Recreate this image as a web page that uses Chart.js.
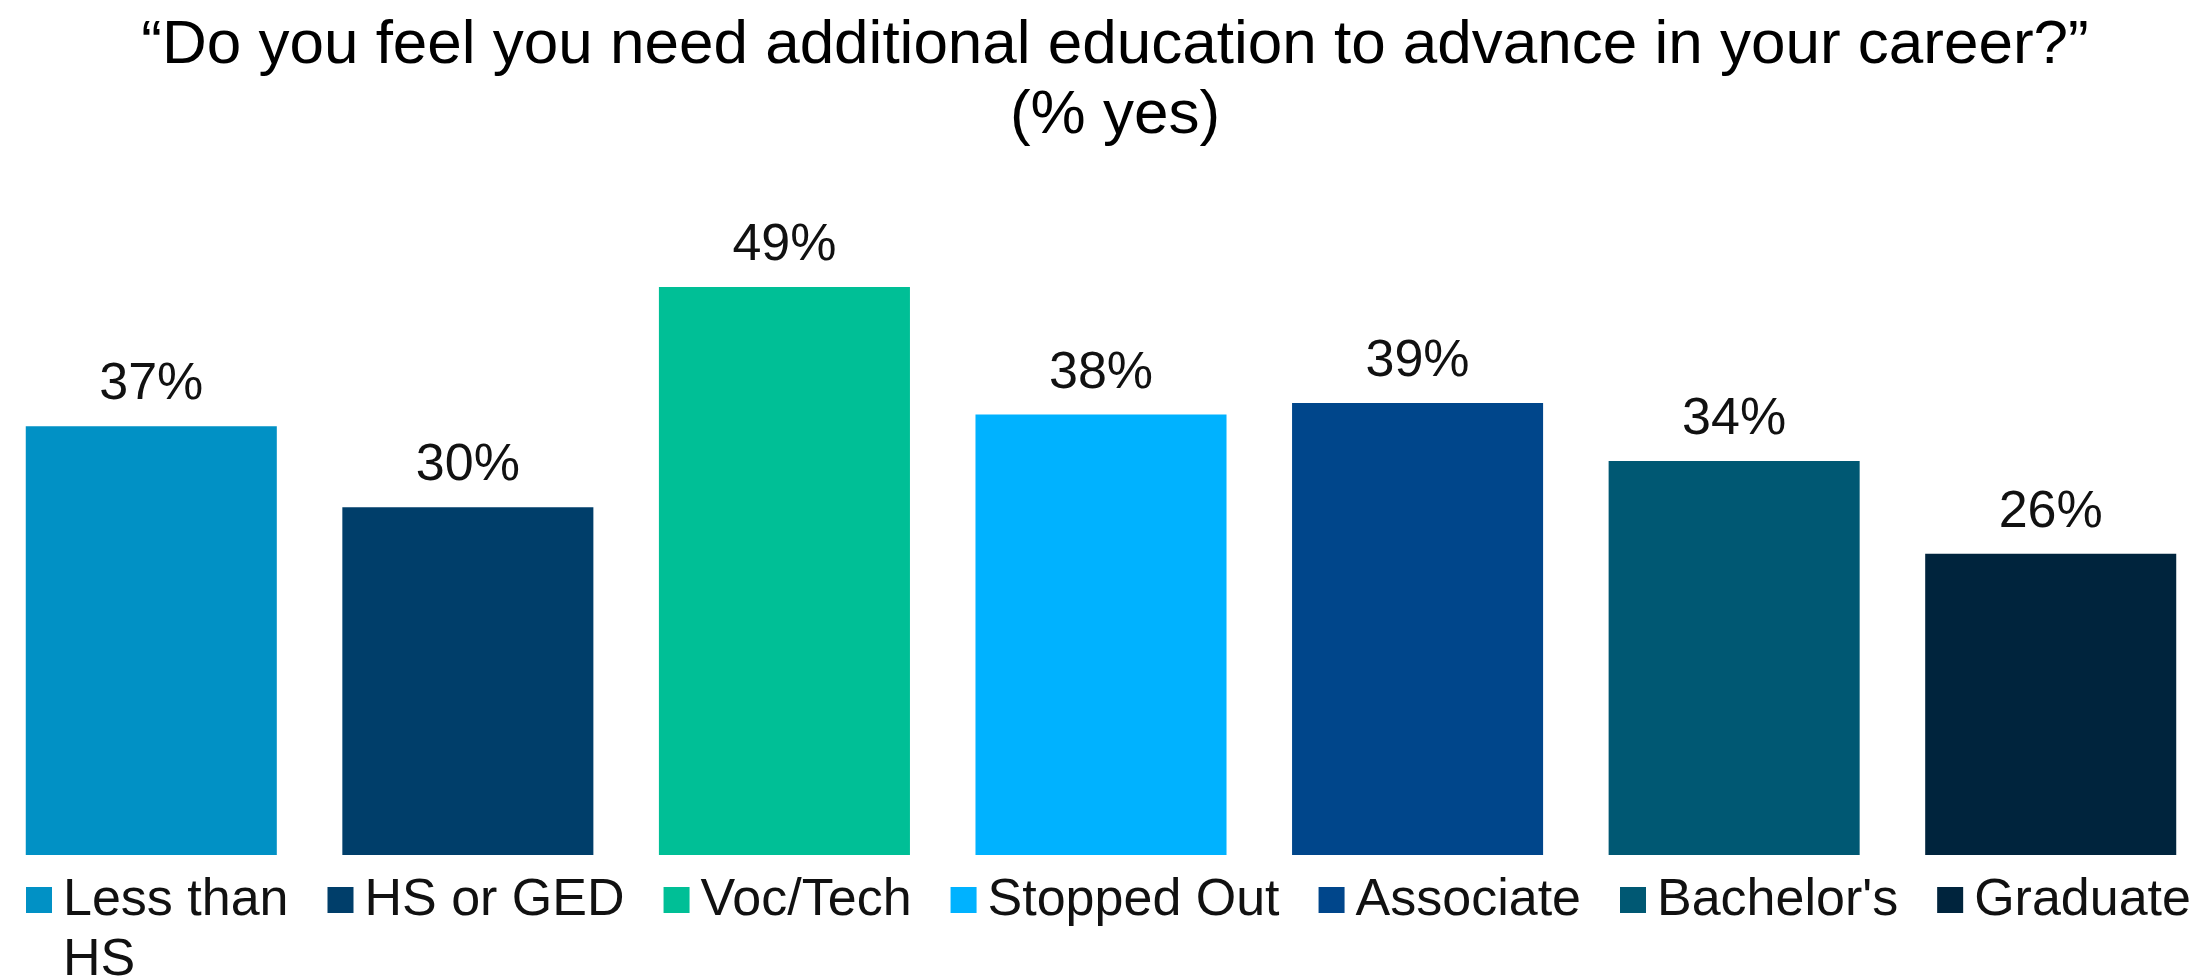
<!DOCTYPE html>
<html>
<head>
<meta charset="utf-8">
<script src="https://cdn.jsdelivr.net/npm/chart.js@4"></script>
<style>
  html, body { margin: 0; padding: 0; background: #fff; overflow: hidden; }
  #wrap { width: 2205px; height: 976px; overflow: hidden; position: relative; }
  #eduChart { position: absolute; left: -7px; top: 0; }
</style>
</head>
<body>
<div id="wrap"><canvas id="eduChart" width="2216" height="976"></canvas></div>
<script>
// data
const categories = [['Less than', 'HS'], 'HS or GED', 'Voc/Tech', 'Stopped Out', 'Associate', "Bachelor's", 'Graduate'];
const yesShare = [37, 30, 49, 38, 39, 34, 26];
const titleLines = ['\u201CDo you feel you need additional education to advance in your career?\u201D', '(% yes)'];

const barColors = ['#0191C5', '#003E6A', '#00BF96', '#00B2FF', '#00468B', '#005873', '#00243D'];
const FONT = '"Liberation Sans", Arial, sans-serif';
const SHIFT = 7; // canvas sits 7px left of the page edge

// title, centred a bit right of the plot like the original slide
const slideTitle = {
  id: 'slideTitle',
  afterDraw(chart) {
    const ctx = chart.ctx;
    ctx.save();
    ctx.font = '62px ' + FONT;
    ctx.fillStyle = '#000';
    ctx.textAlign = 'center';
    ctx.textBaseline = 'alphabetic';
    titleLines.forEach((ln, k) => {
      ctx.fillText(ln, 1115 + SHIFT, 63 + k * 70);
    });
    ctx.restore();
  }
};

// value labels on top of bars
const valueLabels = {
  id: 'valueLabels',
  afterDatasetsDraw(chart) {
    const ctx = chart.ctx;
    const meta = chart.getDatasetMeta(0);
    ctx.save();
    ctx.font = '52px ' + FONT;
    ctx.fillStyle = '#111';
    ctx.textAlign = 'center';
    ctx.textBaseline = 'alphabetic';
    meta.data.forEach((bar, i) => {
      ctx.fillText(yesShare[i] + '%', bar.x, bar.y - 27);
    });
    ctx.restore();
  }
};

// flowing legend at the bottom
const flowLegend = {
  id: 'flowLegend',
  afterDraw(chart) {
    const ctx = chart.ctx;
    ctx.save();
    ctx.font = '52px ' + FONT;
    ctx.textBaseline = 'alphabetic';
    ctx.textAlign = 'left';
    let x = 26 + SHIFT;
    const baseY = 915;
    categories.forEach((cat, i) => {
      const lines = Array.isArray(cat) ? cat : [cat];
      ctx.fillStyle = barColors[i];
      ctx.fillRect(x, 887, 26, 26);
      ctx.fillStyle = '#111';
      let w = 0;
      lines.forEach((ln, k) => {
        ctx.fillText(ln, x + 37, baseY + k * 60);
        w = Math.max(w, ctx.measureText(ln).width);
      });
      x = x + 37 + w + 39;
    });
    ctx.restore();
  }
};

const chart = new Chart(document.getElementById('eduChart'), {
  type: 'bar',
  data: {
    labels: categories,
    datasets: [{
      data: yesShare,
      backgroundColor: barColors,
      borderWidth: 0,
      barPercentage: 0.793,
      categoryPercentage: 1
    }]
  },
  options: {
    responsive: false,
    animation: false,
    devicePixelRatio: 1,
    layout: { padding: { left: 0, right: 0, top: 275.5, bottom: 121 } },
    scales: {
      x: { display: false },
      y: { display: false, min: 0, max: 50 }
    },
    plugins: {
      legend: { display: false },
      tooltip: { enabled: false },
      title: { display: false }
    }
  },
  plugins: [valueLabels, flowLegend, slideTitle]
});
</script>
</body>
</html>
